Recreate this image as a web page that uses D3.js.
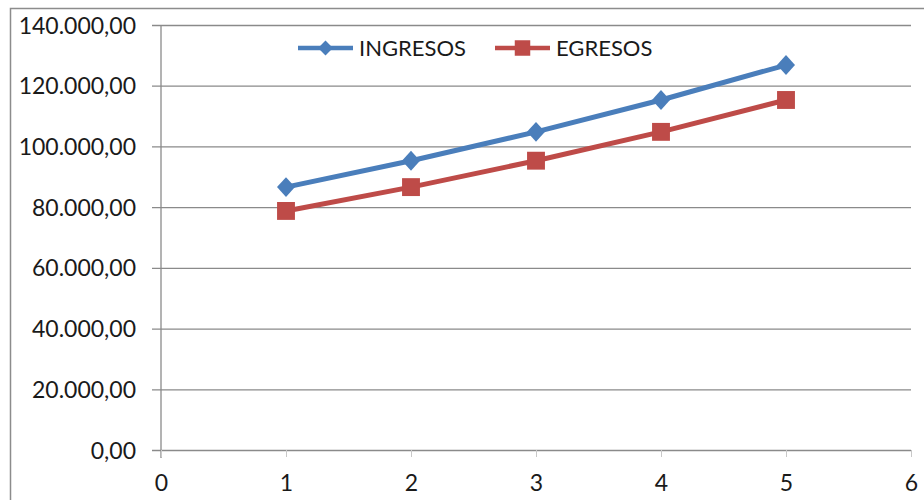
<!DOCTYPE html>
<html><head><meta charset="utf-8">
<script src="https://cdn.jsdelivr.net/npm/d3@7"></script>
<style>body{margin:0;background:#fff}svg{display:block}text{font-family:Lato,"Open Sans",sans-serif;fill:#1a1a1a}</style>
</head><body><svg id="c" width="924" height="500"></svg>
<script>
const xValues = [1, 2, 3, 4, 5];
const ingresos = [86600, 95300, 104800, 115300, 126800];
const egresos = [78750, 86600, 95300, 104800, 115300];
const yTicks = [0, 20000, 40000, 60000, 80000, 100000, 120000, 140000];
const xTicks = [0, 1, 2, 3, 4, 5, 6];
const seriesNames = ["INGRESOS", "EGRESOS"];
const colors = ["#4a7ebb", "#be4b48"];

const svg = d3.select("#c");
const x = d3.scaleLinear().domain([0, 6]).range([161, 911]);
const y = d3.scaleLinear().domain([0, 140000]).range([450, 25]);
const fmt = v => d3.format(",.2f")(v).replace(/,/g, "#").replace(".", ",").replace(/#/g, ".");

// outer frame
svg.append("rect").attr("x", 10.5).attr("y", 8.5).attr("width", 930).attr("height", 510)
  .attr("fill", "none").attr("stroke", "#8c8c8c").attr("stroke-width", 1.5);

// y gridlines + axis
const yAxis = d3.axisLeft(y).tickValues(yTicks).tickFormat(fmt).tickSize(-(911 - 161)).tickPadding(25);
const gy = svg.append("g").attr("transform", "translate(161,0)").call(yAxis);
gy.select(".domain").remove();
gy.selectAll(".tick line").attr("stroke", "#8a8a8a").attr("stroke-width", 1.3).attr("x1", -9);
gy.selectAll(".tick text").attr("font-size", 23).attr("font-family", "Lato").attr("fill", "#1a1a1a").attr("dy", "0.35em");

// y axis line
svg.append("line").attr("x1", 161).attr("x2", 161).attr("y1", 25).attr("y2", 458)
  .attr("stroke", "#8a8a8a").attr("stroke-width", 1.3);

// x axis
const xAxis = d3.axisBottom(x).tickValues(xTicks).tickFormat(d3.format("d")).tickSize(7).tickPadding(18);
const gx = svg.append("g").attr("transform", "translate(0,450)").call(xAxis);
gx.select(".domain").remove();
gx.selectAll(".tick line").attr("stroke", "#c8c8c8").attr("stroke-width", 1);
gx.selectAll(".tick text").attr("font-size", 23).attr("font-family", "Lato").attr("fill", "#1a1a1a");

const line = d3.line().x((d, i) => x(xValues[i])).y(d => y(d));
const data = [ingresos, egresos];
data.forEach((vals, s) => {
  svg.append("path").datum(vals).attr("d", line).attr("fill", "none")
    .attr("stroke", colors[s]).attr("stroke-width", 5);
});
const diamond = d3.symbol().type(d3.symbolSquare).size(180);
const square = d3.symbol().type(d3.symbolSquare).size(320);
svg.append("g").selectAll("path").data(ingresos).join("path")
  .attr("d", diamond).attr("fill", colors[0])
  .attr("transform", (d, i) => `translate(${x(xValues[i])},${y(d)}) scale(0.95,1.05) rotate(45)`);
svg.append("g").selectAll("path").data(egresos).join("path")
  .attr("d", square).attr("fill", colors[1])
  .attr("transform", (d, i) => `translate(${x(xValues[i])},${y(d)})`);

// legend
const legX = [298, 495];
const legDiamond = d3.symbol().type(d3.symbolSquare).size(110);
const legSquare = d3.symbol().type(d3.symbolSquare).size(240);
seriesNames.forEach((n, s) => {
  const g = svg.append("g").attr("transform", `translate(${legX[s]},48)`);
  g.append("line").attr("x1", 0).attr("x2", 55).attr("stroke", colors[s]).attr("stroke-width", 4.5);
  g.append("path").attr("d", s === 0 ? legDiamond : legSquare).attr("fill", colors[s])
    .attr("transform", s === 0 ? "translate(27.5,0) rotate(45)" : "translate(27.5,0)");
  g.append("text").attr("x", 61).attr("y", 0).attr("dy", "0.35em").attr("font-size", 22).text(n);
});
</script></body></html>
